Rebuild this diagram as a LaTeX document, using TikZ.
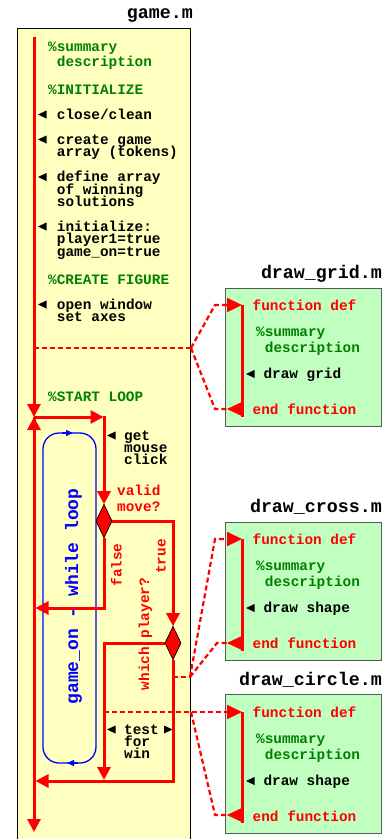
\documentclass[tikz,border=0pt]{standalone}
\usepackage{fontspec}
\setmainfont{Liberation Mono}
\usetikzlibrary{arrows.meta,shapes.geometric}
\definecolor{cyel}{RGB}{255,255,192}
\definecolor{cgrn}{RGB}{192,255,192}
\definecolor{ctg}{RGB}{0,128,0}
\definecolor{cred}{RGB}{255,0,0}
\definecolor{cblue}{RGB}{0,0,255}
\newcommand\lbul[2]{\fill[black] (#1,#2) -- ++(8.5,-4) -- ++(0,8) -- cycle;}
\newcommand\rbul[2]{\fill[black] (#1,#2) -- ++(-8.5,-4) -- ++(0,8) -- cycle;}
\begin{document}
\begin{tikzpicture}[x=1pt,y=-1pt,
  txt/.style={font=\bfseries\fontsize{14.4}{15}\selectfont, inner sep=0pt, anchor=base west, text height=8.5pt, text depth=2.5pt},
  cmt/.style={txt, text=ctg},
  rtxt/.style={txt, text=cred},
  ttl/.style={font=\bfseries\fontsize{18.3}{20}\selectfont, inner sep=0pt, anchor=base east},
  flowline/.style={cred, line width=3pt},
  flow/.style={flowline, -{Triangle[length=13pt,width=13pt]}},
  dsh/.style={cred, line width=2.2pt, dash pattern=on 5pt off 3pt},
  dsharr/.style={dsh, -{Triangle[length=15pt,width=14pt]}},
  tiponly/.style={cred, line width=0.5pt, -{Triangle[length=15pt,width=14pt]}},
  dia/.style={shape=diamond, draw=black, fill=cred, line width=0.6pt, minimum width=16pt, minimum height=33pt, inner sep=0pt, aspect=0.48},
  gbox/.style={draw=black!65, fill=cgrn, line width=1pt},
  loopln/.style={cblue, line width=1.3pt},
]
\clip (0,0) rectangle (391,839);
\fill[white] (0,0) rectangle (391,839);

% main file box
\node[ttl] (tgame) at (193,18.5) {game.m};
\draw[black, line width=1pt, fill=cyel] (17.3,28) rectangle (190.7,850);

% function file boxes
\draw[gbox] (225,288) rectangle (381,426);
\draw[gbox] (225,522) rectangle (381,660);
\draw[gbox] (225,694) rectangle (381,833);
\node[ttl] (tgrid) at (382,278) {draw\_grid.m};
\node[ttl] (tcross) at (382,512) {draw\_cross.m};
\node[ttl] (tcircle) at (382,685) {draw\_circle.m};

% left column texts
\node[cmt] (s1) at (48,51) {\%summary};
\node[cmt] (s2) at (56.7,66) {description};
\node[cmt] (s3) at (48,94) {\%INITIALIZE};
\node[txt] (a1) at (56.7,119) {close/clean};
\node[txt] (b1) at (56.7,144) {create game};
\node[txt] (b2) at (56.7,156.5) {array (tokens)};
\node[txt] (c1t) at (56.7,181.5) {define array};
\node[txt] (c2t) at (56.7,194) {of winning};
\node[txt] (c3t) at (56.7,206.5) {solutions};
\node[txt] (e1) at (56.7,231) {initialize:};
\node[txt] (e2) at (56.7,243.5) {player1=true};
\node[txt] (e3) at (56.7,256) {game\_on=true};
\node[cmt] (s4) at (48,284) {\%CREATE FIGURE};
\node[txt] (f1) at (56.7,309) {open window};
\node[txt] (f2) at (56.7,321.5) {set axes};
\node[cmt] (s5) at (48,401) {\%START LOOP};
\node[txt] (g1) at (124,440) {get};
\node[txt] (g2) at (124,452) {mouse};
\node[txt] (g3) at (124,464) {click};
\node[rtxt] (v1) at (117,495) {valid};
\node[rtxt] (v2) at (117,511.5) {move?};
\node[txt] (t1) at (124,734) {test};
\node[txt] (t2) at (124,746) {for};
\node[txt] (t3) at (124,758) {win};
\node[rtxt, anchor=base, rotate=90] (fl) at (121.5,565) {false};
\node[rtxt, anchor=base, rotate=90] (tr) at (165.5,556.5) {true};
\node[rtxt, anchor=base, rotate=90] (wp) at (149,634) {which player?};

\lbul{38}{114.5}
\lbul{38}{139.5}
\lbul{38}{177}
\lbul{38}{226.5}
\lbul{38}{304.5}
\lbul{107}{435.5}
\lbul{107}{729.5}
\rbul{172.5}{729.5}

% green box texts
\node[rtxt] (gf) at (252.5,310) {function def};
\node[cmt] (gs1) at (256,336) {\%summary};
\node[cmt] (gs2) at (264.7,352) {description};
\node[txt] (gd1) at (263.3,378) {draw grid};
\node[rtxt] (ge) at (252.5,414) {end function};
\lbul{246}{374}

\node[rtxt] (cf) at (252.5,544) {function def};
\node[cmt] (cs1) at (256,570) {\%summary};
\node[cmt] (cs2) at (264.7,586) {description};
\node[txt] (cd1) at (263.3,612) {draw shape};
\node[rtxt] (ce) at (252.5,648) {end function};
\lbul{246}{608}

\node[rtxt] (of) at (252.5,717) {function def};
\node[cmt] (os1) at (256,743) {\%summary};
\node[cmt] (os2) at (264.7,759) {description};
\node[txt] (od1) at (263.3,785) {draw shape};
\node[rtxt] (oe) at (252.5,821) {end function};
\lbul{246}{781}

% while loop
\draw[loopln, rounded corners=16pt] (43,433) rectangle (96,763);
\draw[loopln, -{Triangle[length=7pt,width=6pt]}] (62,433) -- (73,433);
\draw[loopln, -{Triangle[length=7pt,width=6pt]}] (78,763) -- (67,763);
\node[font=\bfseries\fontsize{18}{20}\selectfont, text=cblue, rotate=90, anchor=base, inner sep=0pt] (wl) at (78,596.5) {game\_on - while loop};

% coordinates
\coordinate (top) at (34,37);
\coordinate (j) at (34,417);
\coordinate (jr) at (103.5,417);
\coordinate (jv) at (104,415.5);
\coordinate (lf) at (35.5,608);
\coordinate (c1) at (104,780);
\coordinate (lr) at (35.5,781);
\coordinate (ret) at (34,782.5);
\coordinate (exit) at (34,832);

\coordinate (gs) at (34,348);
\coordinate (gj) at (191,348);
\coordinate (gu) at (215,305);
\coordinate (gd) at (215,409);
\coordinate (gin) at (242,305);
\coordinate (gout) at (227,409);
\coordinate (gbase) at (242,409);
\coordinate (gbot) at (242,417);

\coordinate (cs) at (173,677);
\coordinate (cj) at (190,677);
\coordinate (cu) at (215,539);
\coordinate (cdn) at (217,643);
\coordinate (cin) at (242,539);
\coordinate (cout) at (227,643);
\coordinate (cbase) at (242,643);
\coordinate (cbot) at (242,651);

\coordinate (os) at (104,712);
\coordinate (oj) at (191,712);
\coordinate (oin) at (242,712);
\coordinate (odn) at (215,815);
\coordinate (oout) at (227,815);
\coordinate (obase) at (242,815);
\coordinate (obot) at (242,823);

% dashed calls
\draw[dsh] (gs) -- (gj);
\draw[dsharr] (gj) -- (gu) -- (gin);
\draw[dsh] (gj) -- (gd) -- (gout);
\draw[dsh] (cs) -- (cj);
\draw[dsharr] (cj) -- (cu) -- (cin);
\draw[dsh] (cj) -- (cdn) -- (cout);
\draw[dsharr] (os) -- (oin);
\draw[dsh] (oj) -- (odn) -- (oout);

% function flows
\draw[flowline] (gin) -- (gbot);
\draw[tiponly] (gbase) -- (gout);
\draw[flowline] (cin) -- (cbot);
\draw[tiponly] (cbase) -- (cout);
\draw[flowline] (oin) -- (obot);
\draw[tiponly] (obase) -- (oout);

% main flow
\node[dia] (d1) at (104,521) {};
\node[dia] (d2) at (173,643) {};
\draw[flow] (top) -- (j);
\draw[flow] (ret) -- (j);
\draw[flow] (j) -- (exit);
\draw[flow] (j) -- (jr);
\draw[flow] (jv) -- (d1.north);
\draw[flow] (d1.east) -| (d2.north);
\draw[flow] (d1.south) |- (lf);
\draw[flow] (d2.west) -| (c1);
\draw[flow] (d2.south) |- (lr);
\node[dia] at (d1) {};
\node[dia] at (d2) {};
\end{tikzpicture}
\end{document}
